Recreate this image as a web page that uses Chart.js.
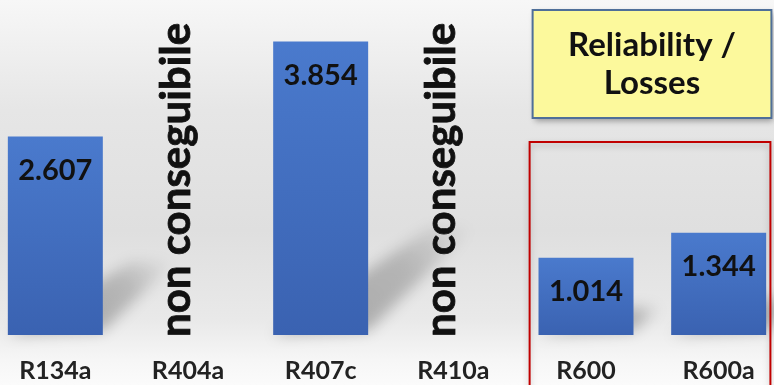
<!DOCTYPE html>
<html>
<head>
<meta charset="utf-8">
<script src="https://cdn.jsdelivr.net/npm/chart.js@4.4.1/dist/chart.umd.min.js"></script>
<style>
  html, body { margin: 0; padding: 0; width: 774px; height: 385px; overflow: hidden; }
  body {
    position: relative;
    background: linear-gradient(to bottom, #f7f7f7 0px, #e6e6e6 110px, #dfdfdf 230px, #e9e9e9 320px, #f6f6f6 360px, #fbfbfb 385px);
  }
  #wrap { position: absolute; left: -11px; top: 0; width: 796px; height: 385px; }
</style>
</head>
<body>
<div id="wrap"><canvas id="chart" width="796" height="385"></canvas></div>
<script>
// Refrigerants compared and their values (null = not obtainable)
const refrigerants = ['R134a', 'R404a', 'R407c', 'R410a', 'R600', 'R600a'];
const values = [2.607, null, 3.854, null, 1.014, 1.344];
const missingNote = 'non conseguibile';
const highlighted = ['R600', 'R600a'];
const highlightTitle = ['Reliability /', 'Losses'];

const FONT = 'Lato, "Open Sans", sans-serif';

// Soft perspective shadow cast by every bar onto the floor
const barShadows = {
  id: 'barShadows',
  beforeDatasetsDraw(chart) {
    const { ctx } = chart;
    const meta = chart.getDatasetMeta(0);
    meta.data.forEach((bar, i) => {
      if (values[i] == null) return;
      const w = bar.width;
      const x0 = bar.x - w / 2, x1 = bar.x + w / 2;
      const base = bar.base, h = base - bar.y;
      const d = h * 0.36;
      ctx.save();
      ctx.filter = 'blur(7px)';
      const g = ctx.createLinearGradient(x1, base, x1 + d, base - d);
      g.addColorStop(0, 'rgba(0,0,0,0.26)');
      g.addColorStop(0.5, 'rgba(0,0,0,0.20)');
      g.addColorStop(1, 'rgba(0,0,0,0)');
      ctx.fillStyle = g;
      ctx.beginPath();
      ctx.moveTo(x0, base);
      ctx.lineTo(x1, base - 4);
      ctx.lineTo(x1 + d, base - d * 1.02);
      ctx.lineTo(x0 + d + w * 0.55, base - d * 1.02);
      ctx.closePath();
      ctx.fill();
      ctx.restore();
    });
  }
};

// Value inside the top of each bar, and the note for missing values
const barLabels = {
  id: 'barLabels',
  afterDatasetsDraw(chart) {
    const { ctx } = chart;
    const xs = chart.scales.x;
    const meta = chart.getDatasetMeta(0);
    ctx.save();
    ctx.fillStyle = '#111111';
    ctx.strokeStyle = '#111111';
    values.forEach((v, i) => {
      if (v != null) {
        const bar = meta.data[i];
        ctx.font = 'bold 29px ' + FONT;
        ctx.textAlign = 'center';
        ctx.textBaseline = 'alphabetic';
        ctx.fillText(v.toFixed(3), bar.x, bar.y + 43);
      } else {
        const x = xs.getPixelForValue(i);
        ctx.save();
        ctx.translate(x + 2, chart.chartArea.bottom + 2);
        ctx.rotate(-Math.PI / 2);
        ctx.font = 'bold 42px ' + FONT;
        ctx.textAlign = 'left';
        ctx.textBaseline = 'alphabetic';
        ctx.lineWidth = 0.8;
        ctx.fillText(missingNote, 0, 0);
        ctx.strokeText(missingNote, 0, 0);
        ctx.restore();
      }
    });
    ctx.restore();
  }
};

// Red frame around the highlighted group and its yellow caption box
const highlightBox = {
  id: 'highlightBox',
  afterDraw(chart) {
    const { ctx } = chart;
    const xs = chart.scales.x, ys = chart.scales.y;
    const first = refrigerants.indexOf(highlighted[0]);
    const last = refrigerants.indexOf(highlighted[highlighted.length - 1]);
    const step = xs.getPixelForValue(1) - xs.getPixelForValue(0);
    const left = xs.getPixelForValue(first) - step * 0.425;
    const right = xs.getPixelForValue(last) + step * 0.39;

    // red frame
    ctx.save();
    ctx.shadowColor = 'rgba(0,0,0,0.25)';
    ctx.shadowBlur = 6;
    ctx.shadowOffsetY = 3;
    ctx.strokeStyle = '#c00000';
    ctx.lineWidth = 2;
    const top = ys.getPixelForValue(2.535);
    ctx.strokeRect(left, top, right - left, chart.height + 20 - top);
    ctx.restore();

    // yellow caption box
    const bl = left + 3, br = right + 1, bt = 10, bb = 118;
    ctx.save();
    ctx.shadowColor = 'rgba(0,0,0,0.35)';
    ctx.shadowBlur = 6;
    ctx.shadowOffsetX = 2;
    ctx.shadowOffsetY = 3;
    ctx.fillStyle = '#fcf99c';
    ctx.fillRect(bl, bt, br - bl, bb - bt);
    ctx.restore();
    ctx.save();
    ctx.strokeStyle = '#4f6f99';
    ctx.lineWidth = 2;
    ctx.strokeRect(bl, bt, br - bl, bb - bt);
    ctx.fillStyle = '#111111';
    ctx.font = 'bold 33px ' + FONT;
    ctx.textAlign = 'center';
    ctx.textBaseline = 'alphabetic';
    const cx = (bl + br) / 2;
    ctx.fillText(highlightTitle[0], cx, 56);
    ctx.fillText(highlightTitle[1], cx, 94);
    ctx.restore();
  }
};

// Vertical fill for each bar, lighter at its top
function barFill(context) {
  const chart = context.chart;
  const ys = chart.scales && chart.scales.y;
  const v = context.raw;
  if (!ys || v == null) return '#4472c4';
  const top = ys.getPixelForValue(v);
  const bottom = ys.getPixelForValue(0);
  if (!isFinite(top) || !isFinite(bottom) || top === bottom) return '#4472c4';
  const g = chart.ctx.createLinearGradient(0, top, 0, bottom);
  g.addColorStop(0, '#4a7acd');
  g.addColorStop(1, '#3a62b1');
  return g;
}

function draw() {
  new Chart(document.getElementById('chart'), {
    type: 'bar',
    data: {
      labels: refrigerants,
      datasets: [{
        data: values,
        backgroundColor: barFill,
        borderWidth: 0,
        categoryPercentage: 1,
        barPercentage: 0.716
      }]
    },
    options: {
      responsive: false,
      animation: false,
      devicePixelRatio: 1,
      layout: { padding: 0 },
      plugins: { legend: { display: false }, tooltip: { enabled: false } },
      scales: {
        x: {
          grid: { display: false, drawTicks: false },
          border: { display: false },
          ticks: {
            color: '#222222',
            font: { family: FONT, size: 25, weight: 'bold' },
            padding: 21,
            maxRotation: 0,
            autoSkip: false
          },
          afterFit(scale) { scale.height = 50; }
        },
        y: {
          display: false,
          min: 0,
          max: 4.4
        }
      }
    },
    plugins: [barShadows, barLabels, highlightBox]
  });
}

if (document.fonts && document.fonts.load) {
  Promise.all([
    document.fonts.load('bold 25px Lato'),
    document.fonts.load('bold 42px Lato')
  ]).then(draw, draw);
} else {
  draw();
}
</script>
</body>
</html>
